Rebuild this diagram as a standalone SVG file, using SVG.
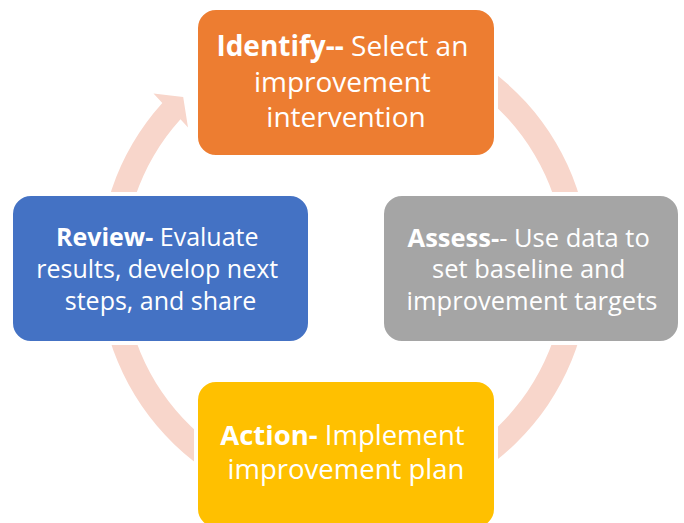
<svg xmlns="http://www.w3.org/2000/svg" width="684" height="523" viewBox="0 0 684 523">
  <style>
    .box { stroke: #FFFFFF; stroke-width: 4; }
    .t { font-family: "Open Sans", "Liberation Sans", sans-serif; fill: #FFFFFF; text-anchor: middle; }
    .b { font-weight: bold; }
    .ring { fill: #F8D6CB; }
  </style>
  <rect x="0" y="0" width="684" height="523" fill="#FFFFFF"/>
  <g id="connectors">
    <path class="ring" d="M 467.25 54.9 A 245.5 245.5 0 1 1 162.3 102.9 L 153.5 93.5 L 183.2 96.9 L 188 127.5 L 180.5 119.3 A 221 221 0 1 0 455 76.1 Z"/>
  </g>
  <g id="identify">
    <rect class="box" x="196" y="8" width="300" height="149" rx="20" fill="#ED7D31"/>
    <text class="t" font-size="28">
      <tspan x="346" y="56"><tspan class="b">Identify--</tspan> Select an</tspan>
      <tspan x="346" y="91.5">improvement</tspan>
      <tspan x="346" y="127">intervention</tspan>
    </text>
  </g>
  <g id="assess">
    <rect class="box" x="382" y="194" width="298" height="149" rx="20" fill="#A5A5A5"/>
    <text class="t" font-size="25.5">
      <tspan x="532" y="246.5"><tspan class="b">Assess-</tspan>- Use data to</tspan>
      <tspan x="532" y="278">set baseline and</tspan>
      <tspan x="532" y="309.5">improvement targets</tspan>
    </text>
  </g>
  <g id="action">
    <rect class="box" x="196" y="380" width="300" height="149" rx="20" fill="#FFC000"/>
    <text class="t" font-size="27.5">
      <tspan x="346" y="444.5"><tspan class="b">Action-</tspan> Implement</tspan>
      <tspan x="346" y="478.5">improvement plan</tspan>
    </text>
  </g>
  <g id="review">
    <rect class="box" x="11" y="194" width="299" height="149" rx="20" fill="#4472C4"/>
    <text class="t" font-size="25">
      <tspan x="160.5" y="246"><tspan class="b">Review-</tspan> Evaluate</tspan>
      <tspan x="160.5" y="278">results, develop next</tspan>
      <tspan x="160.5" y="309.5">steps, and share</tspan>
    </text>
  </g>
</svg>
